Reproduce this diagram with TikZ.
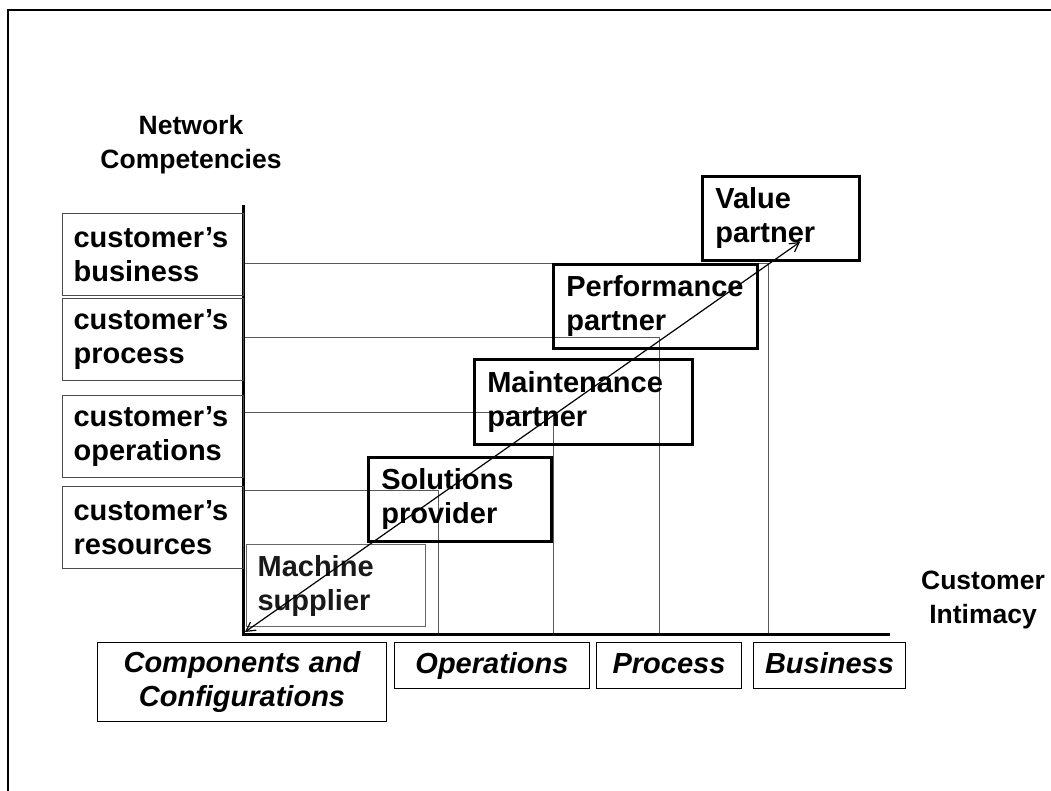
\documentclass[tikz,border=0pt]{standalone}
\usepackage{fontspec}
\setmainfont{Liberation Sans}
\usetikzlibrary{arrows.meta}
\begin{document}
\begin{tikzpicture}[x=1pt,y=-1pt,
  txt/.style={font=\fontsize{29}{34}\selectfont\bfseries},
  ttl/.style={font=\fontsize{26.5}{34}\selectfont\bfseries,align=center},
  lbox/.style={txt,draw=black!70,line width=1.2pt,anchor=north west,align=left,inner xsep=11pt,inner ysep=0pt,text width=159pt,minimum height=82pt},
  pbox/.style={txt,draw=black,line width=2.6pt,anchor=north west,align=left,inner xsep=13pt,inner ysep=0pt,minimum height=84pt},
  bbox/.style={font=\fontsize{29}{34}\selectfont\bfseries\itshape,draw=black,line width=1pt,anchor=north west,align=center,inner sep=0pt,minimum height=46pt,text height=21pt,text depth=6pt},
  gridln/.style={draw=black!65,line width=1pt},
  axisln/.style={draw=black,line width=3pt},
  frameln/.style={draw=black,line width=2pt}]
\useasboundingbox (0,0) rectangle (1051,791);
% outer frame
\coordinate (fbl) at (8,791);
\coordinate (ftl) at (8,10);
\coordinate (ftr) at (1051,10);
\draw[frameln] (fbl) -- (ftl) -- (ftr);
% grid of levels
\coordinate (h1) at (243,264); \coordinate (c1) at (768,264); \coordinate (b1) at (768,634);
\coordinate (h2) at (243,337); \coordinate (c2) at (659,337); \coordinate (b2) at (659,634);
\coordinate (h3) at (243,412); \coordinate (c3) at (553,412); \coordinate (b3) at (553,634);
\coordinate (h4) at (243,490); \coordinate (c4) at (438,490); \coordinate (b4) at (438,634);
\draw[gridln] (h1) -- (c1) -- (b1);
\draw[gridln] (h2) -- (c2) -- (b2);
\draw[gridln] (h3) -- (c3) -- (b3);
\draw[gridln] (h4) -- (c4) -- (b4);
% axes
\coordinate (ytop) at (243,205);
\coordinate (orig) at (243,634);
\coordinate (xend) at (890,634);
\draw[axisln] (ytop) -- (orig) -- (xend);
% axis titles
\node[ttl] (ntitle) at (191,145) {Network\\Competencies};
\node[ttl] (ctitle) at (983,600) {Customer\\Intimacy};
% left boxes
\node[lbox] (cbus) at (62,213) {customer’s\\business};
\node[lbox] (cpro) at (62,298) {customer’s\\process};
\node[lbox] (cope) at (62,395) {customer’s\\operations};
\node[lbox] (cres) at (62,486) {customer’s\\resources};
% partner boxes
\node[pbox,draw=black!60,line width=1.2pt,text=black!90,inner xsep=11pt,text width=157pt,minimum height=82pt] (mach) at (246,544) {Machine\\supplier};
\node[pbox,text width=157pt] (sol) at (367,456) {Solutions\\provider};
\node[pbox,text width=192pt,minimum height=85pt] (maint) at (473,358) {Maintenance\\partner};
\node[pbox,text width=178pt] (perf) at (552,263) {Performance\\partner};
\node[pbox,text width=131pt] (val) at (701,175) {Value\\partner};
% diagonal arrow
\coordinate (atip) at (800,242);
\coordinate (abot) at (245,632);
\draw[line width=1.2pt,{Straight Barb[length=9pt,width=10pt]}-{Straight Barb[length=9pt,width=10pt]}] (abot) -- (atip);
% bottom boxes
\node[bbox,minimum width=289pt,minimum height=79pt,text height=,text depth=] (comp) at (97,642) {Components and\\Configurations};
\node[bbox,minimum width=195pt] (oper) at (394,642) {Operations};
\node[bbox,minimum width=145pt] (proc) at (596,642) {Process};
\node[bbox,minimum width=152pt] (busi) at (753,642) {Business};
\end{tikzpicture}
\end{document}
